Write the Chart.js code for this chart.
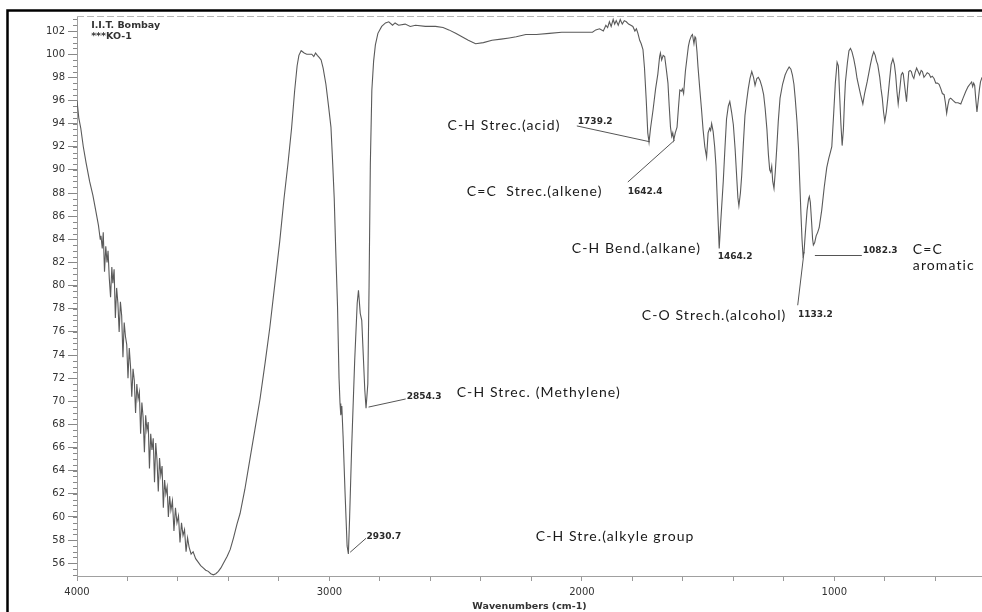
<!DOCTYPE html>
<html>
<head>
<meta charset="utf-8">
<script src="https://cdn.jsdelivr.net/npm/chart.js@4.4.1/dist/chart.umd.min.js"></script>
<style>
  html, body { margin: 0; padding: 0; background: #ffffff; }
  #wrap { position: relative; width: 982px; height: 612px; }
  canvas { display: block; }
</style>
</head>
<body>
<div id="wrap"><canvas id="c" width="982" height="612"></canvas></div>
<script>
// ---------------- DATA ----------------
const wavenumbers = [
4000,3993,3985,3975,3964,3950,3937,3925,3915,3908,
3905,3900,3896,3891,3886,3881,3877,3872,3867,3862,3858,3853,3848,3843,3838,3833,3828,3823,3818,3813,
3808,3803,3798,3793,3788,3783,3778,3773,3768,3763,3758,3753,3748,3743,3738,3733,3728,3723,3718,3713,
3708,3703,3698,3693,3688,3683,3678,3673,3668,3663,3658,3653,3648,3643,3638,3633,3628,3622,3616,3610,
3604,3598,3592,3586,3580,3574,3568,3562,3556,3548,3540,3530,3520,3510,3500,3490,3480,3470,3460,3450,
3440,3430,3420,3405,3393,3380,3366,3354,3335,3315,3295,3275,3255,3236,3217,3197,3180,3164,3150,3138,
3128,3121,3112,3100,3090,3080,3070,3062,3055,3048,3040,3033,3025,3014,3004,2994,2987,2981,2975,2968,
2962,2958,2955,2951,2946,2938,2930,2925,2920,2912,2900,2890,2885,2878,2872,2866,2860,2855,2848,2843,
2838,2832,2825,2818,2808,2793,2778,2765,2750,2740,2726,2700,2680,2659,2620,2580,2550,2527,2500,2475,
2450,2421,2390,2356,2320,2288,2260,2222,2180,2129,2080,2023,1990,1958,1945,1930,1915,1905,1898,1891,
1884,1876,1870,1864,1856,1848,1840,1832,1824,1815,1806,1798,1790,1784,1778,1771,1765,1758,1752,1745,
1739,1734,1728,1718,1708,1699,1692,1689,1684,1678,1672,1665,1659,1654,1649,1644,1640,1636,1630,1623,
1617,1612,1606,1602,1597,1590,1583,1578,1573,1566,1562,1556,1552,1549,1544,1540,1533,1526,1520,1513,
1506,1500,1494,1490,1486,1480,1474,1469,1462,1456,1450,1440,1433,1427,1420,1414,1407,1400,1393,1387,
1382,1378,1372,1367,1360,1354,1347,1341,1334,1327,1320,1314,1307,1301,1294,1287,1280,1274,1267,1261,
1256,1252,1248,1244,1239,1234,1228,1222,1215,1205,1195,1187,1179,1172,1166,1160,1155,1148,1142,1137,
1132,1128,1124,1120,1115,1108,1102,1099,1095,1090,1086,1083,1078,1072,1066,1060,1050,1040,1030,1022,
1016,1010,1003,996,989,984,979,974,969,964,960,956,948,942,936,930,923,916,910,903,
896,887,880,870,863,857,850,844,838,833,828,820,815,810,805,800,794,788,781,775,
768,762,757,752,747,741,735,730,727,720,714,709,705,700,695,690,685,680,674,668,
662,656,651,645,638,632,625,618,612,605,598,592,585,578,572,565,560,555,550,545,
539,530,520,510,499,490,479,470,463,456,452,448,444,440,435,430,425,421,415
];
const transmittance = [
96.0,94.5,93.6,92.0,90.6,89.0,87.8,86.4,85.2,84.0,
84.3,83.2,84.6,81.2,83.4,82.0,83.0,80.6,79.0,81.6,80.2,81.4,77.2,79.8,78.5,76.0,78.6,77.4,73.8,76.8,
75.6,74.9,72.0,74.6,73.0,70.4,72.8,71.8,69.0,71.5,70.2,70.8,67.2,69.9,68.6,65.6,68.8,67.5,68.2,64.2,
67.2,65.8,66.8,63.0,66.4,64.9,62.2,65.1,63.6,64.4,60.8,63.2,62.0,62.6,60.0,61.8,60.6,61.4,58.8,60.8,
59.5,60.1,57.8,59.5,58.4,58.9,57.0,58.2,57.4,56.8,57.0,56.4,56.1,55.8,55.6,55.4,55.3,55.1,55.0,55.1,
55.3,55.6,56.0,56.6,57.2,58.2,59.4,60.3,62.4,65.0,67.6,70.2,73.3,76.4,80.0,83.8,87.5,90.6,93.6,96.8,
99.0,99.9,100.3,100.1,100.0,100.0,100.0,99.8,100.1,99.9,99.7,99.5,98.8,97.4,95.6,93.7,90.5,87.5,83.0,78.2,
72.0,69.8,68.8,69.6,67.0,62.0,57.5,56.8,60.0,66.0,73.5,78.5,79.6,77.6,77.0,74.0,71.0,69.4,71.5,80.0,
90.5,96.9,99.4,100.8,101.8,102.4,102.7,102.8,102.5,102.7,102.5,102.6,102.4,102.5,102.4,102.4,102.3,102.1,101.8,101.5,
101.2,100.9,101.0,101.2,101.3,101.4,101.5,101.7,101.7,101.8,101.9,101.9,101.9,101.9,102.1,102.2,102.0,102.5,102.3,102.8,
102.4,103.0,102.6,102.9,102.5,103.0,102.6,102.9,102.8,102.6,102.5,102.4,102.0,102.2,101.8,101.2,100.9,100.4,98.8,96.0,
93.2,92.4,93.6,95.2,97.0,98.3,99.8,100.1,99.5,99.9,99.8,98.6,97.5,95.5,93.7,92.9,93.2,92.6,93.2,93.7,
95.5,96.9,96.8,97.0,96.6,98.5,99.8,100.7,101.2,101.6,101.7,100.9,101.5,101.4,100.2,98.9,97.0,95.2,93.5,92.0,
91.1,93.2,93.6,93.4,94.0,93.3,92.0,90.4,86.5,83.2,85.5,89.0,92.0,94.4,95.5,95.9,95.0,93.9,91.8,89.5,
87.6,86.9,88.0,89.5,92.4,94.7,96.0,97.0,97.9,98.5,98.0,97.3,97.9,98.0,97.7,97.2,96.5,95.3,93.5,91.3,
90.0,89.8,90.3,89.0,88.4,89.8,91.9,94.2,96.2,97.4,98.2,98.6,98.9,98.7,98.2,97.4,96.2,94.2,91.9,89.0,
86.1,84.0,82.6,82.9,84.5,86.5,87.5,87.7,87.2,85.5,84.0,83.5,83.7,84.3,84.6,85.0,86.5,88.5,90.2,91.0,
91.5,92.0,94.7,97.5,99.3,99.0,96.5,94.0,92.1,93.5,95.8,97.6,99.3,100.3,100.5,100.2,99.6,98.8,97.9,97.2,
96.5,95.7,96.6,97.6,98.4,99.1,99.8,100.2,99.9,99.4,99.1,98.0,97.0,96.2,95.0,94.2,95.0,96.2,97.8,99.1,
99.6,99.1,98.2,96.8,95.7,96.9,98.2,98.4,98.3,97.0,95.9,97.4,98.5,98.6,98.5,98.1,97.9,98.4,98.8,98.5,
98.2,98.6,98.5,98.0,98.2,98.4,98.3,98.0,98.1,97.9,97.5,97.5,97.4,97.0,96.6,96.5,95.8,94.9,95.6,96.1,
96.2,96.0,95.8,95.8,95.7,96.2,96.8,97.2,97.4,97.6,97.2,97.5,97.3,96.2,95.0,96.0,97.0,97.6,98.0
];

const xTickValues = [4000,3800,3600,3400,3200,3000,2800,2600,2400,2200,2000,1800,1600,1400,1200,1000,800,600];
const xTickLabels = ['4000','','','','','3000','','','','','2000','','','','','1000','',''];
const yTickValues = [56,58,60,62,64,66,68,70,72,74,76,78,80,82,84,86,88,90,92,94,96,98,100,102];
const yTickLabels = ['56','58','60','62','64','66','68','70','72','74','76','78','80','82','84','86','88','90','92','94','96','98','100','102'];

// annotation labels (anchored in data coordinates: wavenumber, %T)
const groupTexts  = ['C-H Strec.(acid)','C=C  Strec.(alkene)','C-H Bend.(alkane)','C-O Strech.(alcohol)','C=C','aromatic','C-H Strec. (Methylene)','C-H Stre.(alkyle group'];
const groupX      = [2532, 2456, 2040, 1763, 689, 689, 2496, 2183];
const groupY      = [93.8, 88.1, 83.24, 77.4, 83.15, 81.7, 70.8, 58.3];

const peakTexts   = ['1739.2','1642.4','1464.2','1133.2','1082.3','2854.3','2930.7'];
const peakX       = [2016, 1818, 1462, 1144, 887, 2694, 2853];
const peakY       = [94.2, 88.1, 82.46, 77.53, 83.0, 70.36, 58.3];

// leader lines [fromX, fromY, toX, toY] in data coordinates
const leaderFromX = [2020, 1818, 1145, 1077, 2845, 2918];
const leaderFromY = [93.8, 88.95, 78.3, 82.6, 69.5, 56.95];
const leaderToX   = [1731, 1632, 1120, 891, 2698, 2855];
const leaderToY   = [92.43, 92.58, 82.9, 82.6, 70.2, 58.16];

const headerTexts = ['I.I.T. Bombay', '***KO-1'];
const headerX = [3944, 3944];
const headerY = [102.5, 101.5];

// ---------------- CHART ----------------
const points = wavenumbers.map((w, i) => ({ x: w, y: transmittance[i] }));

const decorPlugin = {
  id: 'decor',
  afterDraw(chart) {
    const ctx = chart.ctx;
    const xs = chart.scales.x, ys = chart.scales.y;
    const a = chart.chartArea;
    ctx.save();
    // top frame (dashed grey)
    ctx.strokeStyle = '#b8b8b8';
    ctx.lineWidth = 1;
    ctx.setLineDash([7, 3]);
    ctx.beginPath();
    ctx.moveTo(a.left, a.top + 0.5);
    ctx.lineTo(a.right, a.top + 0.5);
    ctx.stroke();
    ctx.setLineDash([]);
    // y minor ticks
    ctx.strokeStyle = '#888';
    ctx.beginPath();
    for (let v = 55; v <= 103; v += 0.5) {
      const py = Math.round(ys.getPixelForValue(v)) + 0.5;
      ctx.moveTo(a.left - 4, py);
      ctx.lineTo(a.left, py);
    }
    ctx.stroke();
    // leader lines
    ctx.strokeStyle = '#555';
    ctx.lineWidth = 1;
    ctx.beginPath();
    for (let i = 0; i < leaderFromX.length; i++) {
      ctx.moveTo(xs.getPixelForValue(leaderFromX[i]), ys.getPixelForValue(leaderFromY[i]));
      ctx.lineTo(xs.getPixelForValue(leaderToX[i]), ys.getPixelForValue(leaderToY[i]));
    }
    ctx.stroke();
    // group labels
    ctx.fillStyle = '#1a1a1a';
    ctx.textAlign = 'left';
    ctx.textBaseline = 'middle';
    ctx.font = '14px Lato';
    ctx.letterSpacing = '1.1px';
    for (let i = 0; i < groupTexts.length; i++) {
      ctx.fillText(groupTexts[i], xs.getPixelForValue(groupX[i]), ys.getPixelForValue(groupY[i]));
    }
    ctx.letterSpacing = '0px';
    // peak numbers
    ctx.fillStyle = '#2a2a2a';
    ctx.font = 'bold 9px "DejaVu Sans"';
    for (let i = 0; i < peakTexts.length; i++) {
      ctx.fillText(peakTexts[i], xs.getPixelForValue(peakX[i]), ys.getPixelForValue(peakY[i]));
    }
    // header
    ctx.fillStyle = '#333';
    ctx.font = 'bold 9.5px "DejaVu Sans"';
    for (let i = 0; i < headerTexts.length; i++) {
      ctx.fillText(headerTexts[i], xs.getPixelForValue(headerX[i]), ys.getPixelForValue(headerY[i]));
    }
    // outer black frame
    ctx.strokeStyle = '#000';
    ctx.lineWidth = 2.5;
    ctx.beginPath();
    ctx.moveTo(7.5, 612);
    ctx.lineTo(7.5, 10.5);
    ctx.lineTo(982, 10.5);
    ctx.stroke();
    ctx.restore();
  }
};

new Chart(document.getElementById('c'), {
  type: 'line',
  data: {
    datasets: [{
      data: points,
      borderColor: '#5a5a5a',
      borderWidth: 1.1,
      pointRadius: 0,
      tension: 0,
      fill: false
    }]
  },
  options: {
    responsive: false,
    animation: false,
    events: [],
    layout: { padding: { top: 16, left: 0, right: 0, bottom: 0 } },
    plugins: { legend: { display: false }, tooltip: { enabled: false } },
    scales: {
      x: {
        type: 'linear',
        reverse: true,
        min: 415,
        max: 4000,
        afterBuildTicks(scale) { scale.ticks = xTickValues.map(v => ({ value: v })); },
        afterFit(scale) { scale.height = 36; },
        ticks: {
          autoSkip: false,
          maxRotation: 0,
          padding: 5,
          color: '#333',
          font: { family: 'DejaVu Sans', size: 10 },
          callback: (v) => { const i = xTickValues.indexOf(v); return i >= 0 ? xTickLabels[i] : ''; }
        },
        grid: { drawOnChartArea: false, tickLength: 5, color: '#999' },
        border: { color: '#a0a0a0', width: 1 },
        title: {
          display: true,
          text: 'Wavenumbers (cm-1)',
          color: '#333',
          font: { family: 'DejaVu Sans', size: 9.5, weight: 'bold' },
          padding: { top: 0, bottom: 0 }
        }
      },
      y: {
        type: 'linear',
        min: 54.9,
        max: 103.3,
        afterBuildTicks(scale) { scale.ticks = yTickValues.map(v => ({ value: v })); },
        afterFit(scale) { scale.width = 77; },
        ticks: {
          autoSkip: false,
          padding: 3,
          color: '#333',
          font: { family: 'DejaVu Sans', size: 10 },
          callback: (v) => { const i = yTickValues.indexOf(v); return i >= 0 ? yTickLabels[i] : ''; }
        },
        grid: { drawOnChartArea: false, tickLength: 9, color: '#888' },
        border: { color: '#a0a0a0', width: 1 }
      }
    }
  },
  plugins: [decorPlugin]
});
</script>
</body>
</html>
